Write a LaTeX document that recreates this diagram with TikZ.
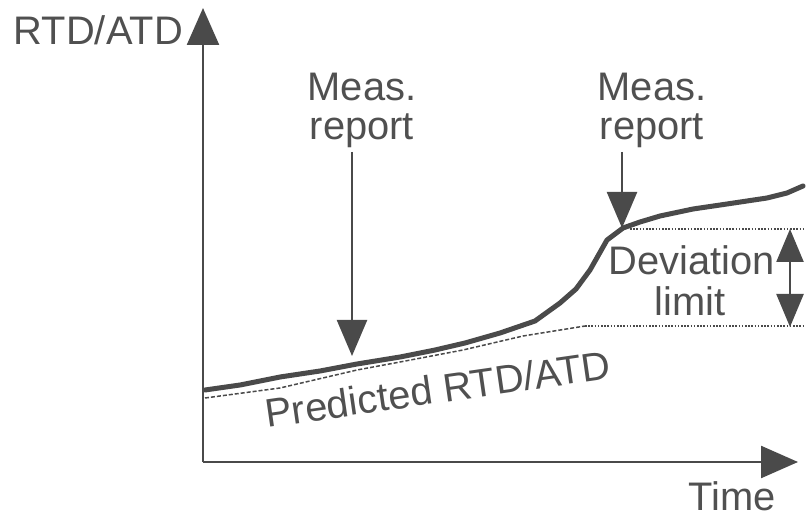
\documentclass[tikz,border=0pt]{standalone}
\usepackage{fontspec}
\setmainfont{Liberation Sans}
\usetikzlibrary{arrows.meta}
\definecolor{inkgray}{HTML}{4A4A4A}
\definecolor{txtgray}{HTML}{505050}
\begin{document}
\begin{tikzpicture}[x=1bp,y=-1bp,
  axisline/.style={draw=inkgray, line width=2.4bp, -{Triangle[length=37bp,width=32bp]}},
  markarrow/.style={draw=inkgray, line width=2.4bp, -{Triangle[length=36bp,width=30bp]}},
  limitarrow/.style={draw=inkgray, line width=2.4bp, {Triangle[length=33bp,width=27bp]}-{Triangle[length=33bp,width=27bp]}},
  lbl/.style={text=txtgray, font=\fontsize{40}{44}\selectfont, inner sep=0pt},
  measured/.style={draw=inkgray, line width=5bp, line join=round, line cap=round},
  predicted/.style={draw=inkgray, line width=1.5bp, dash pattern=on 4bp off 2bp},
  bound/.style={draw=inkgray, line width=2bp, dash pattern=on 1.6bp off 1.6bp}]
\useasboundingbox (0,0) rectangle (810,517);

% axes
\coordinate (origin) at (203,462);
\coordinate (ytop) at (203,8);
\coordinate (xend) at (798,462);
\draw[axisline] (origin) -- (ytop);
\draw[axisline] (origin) -- (xend);
\node[lbl, anchor=base east] (ylabel) at (183,45) {RTD/ATD};
\node[lbl, anchor=base] (xlabel) at (732,510) {Time};

% predicted course (dashed) and its deviation bounds (dotted)
\coordinate (predEnd) at (585,326);
\draw[predicted] (205,398) -- (280,388) -- (357,370) -- (400,362) -- (463,350) -- (523,336) -- (predEnd);
\coordinate (lowR) at (805,326);
\coordinate (highL) at (630,229);
\coordinate (highR) at (805,229);
\draw[bound] (predEnd) -- (lowR);
\draw[bound] (highL) -- (highR);

% measured course
\draw[measured] (205,390) -- (240,385) -- (280,377) -- (320,371) -- (357,364)
  -- (400,357) -- (435,350) -- (465,343) -- (500,333) -- (535,321) -- (560,303)
  -- (576,289) -- (590,270) -- (607,240) -- (623,228) -- (640,222) -- (660,216)
  -- (693,209) -- (727,204) -- (767,198) -- (787,193) -- (803,186);

% measurement reports
\node[lbl, anchor=base] (meas1) at (362,101) {Meas.};
\node[lbl, anchor=base] (rep1) at (362,140) {report};
\node[lbl, anchor=base] (meas2) at (652,101) {Meas.};
\node[lbl, anchor=base] (rep2) at (652,140) {report};
\coordinate (hit1) at (352,356);
\coordinate (hit2) at (622,228);
\draw[markarrow] (352,152) -- (hit1);
\draw[markarrow] (622,152) -- (hit2);

% deviation limit
\coordinate (limTop) at (790,229);
\coordinate (limBot) at (790,327);
\draw[limitarrow] (limTop) -- (limBot);
\node[lbl, anchor=base] (dev) at (692,275) {Deviation};
\node[lbl, anchor=base] (lim) at (690,316) {limit};

% predicted label
\node[lbl, anchor=base, rotate=8.2] (predlbl) at (440,403) {Predicted RTD/ATD};
\end{tikzpicture}
\end{document}
